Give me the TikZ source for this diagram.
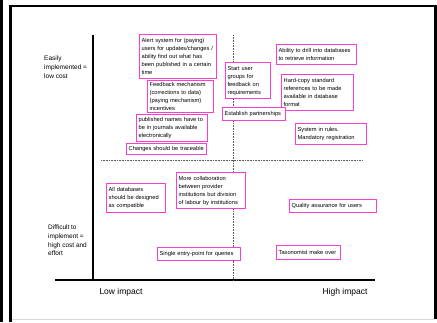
\documentclass[tikz,border=0pt]{standalone}
\usepackage{fontspec}
\setmainfont{Liberation Sans}
\usepackage{xcolor}
\definecolor{boxpink}{RGB}{250,62,205}
\definecolor{gridgray}{RGB}{90,90,90}

\begin{document}
\begin{tikzpicture}[x=1pt,y=-1pt,
    idea/.style={draw=boxpink, line width=1.3pt, fill=white, align=left,
      anchor=north west, inner sep=2pt, font=\fontsize{5.7}{8}\selectfont},
    side/.style={anchor=north west, align=left, inner sep=0pt,
      font=\fontsize{6.5}{8.6}\selectfont},
    impact/.style={inner sep=0pt, font=\fontsize{8.5}{10}\selectfont},
    quarter/.style={gridgray, line width=0.9pt, dash pattern=on 1pt off 0.6pt}]
      \useasboundingbox (0,0) rectangle (437,322);
      % frame
      \fill (0,0) rectangle (3,322);
      \draw[line width=2.6pt] (10.5,322) -- (10.5,6) -- (435.7,6) -- (435.7,318.5);
      \draw[black!15, line width=1pt] (12,319.5) -- (434.5,319.5);
      % axes
      \coordinate (ytop) at (93,35);
      \coordinate (origin) at (93,280);
      \coordinate (xleft) at (55,280);
      \coordinate (xright) at (375,280);
      \draw[line width=1.1pt] (ytop) -- (origin);
      \draw[line width=1.1pt] (xleft) -- (xright);
      \coordinate (vtop) at (233,35);
      \coordinate (vbot) at (233,280);
      \coordinate (hleft) at (101,160);
      \coordinate (hright) at (362,160);
      \draw[quarter] (vtop) -- (vbot);
      \draw[quarter] (hleft) -- (hright);
      % axis labels
      \node[side] (easy) at (44,56) {Easily\\implemented =\\low cost};
      \node[side] (hard) at (48,225) {Difficult to\\implement =\\high cost and\\effort};
      \node[impact] (low) at (121,292) {Low impact};
      \node[impact] (high) at (345,292) {High impact};
      % ideas
      \node[idea, text width=73, minimum height=44] (alert) at (139,34)
        {Alert system for (paying)\\users for updates/changes /\\ability find out what has\\been published in a certain\\time};
      \node[idea, text width=62, minimum height=32] (feedback) at (147,80)
        {Feedback mechanism\\(corrections to data)\\(paying mechanism)\\incentives};
      \node[idea, text width=67, minimum height=27] (journals) at (136,114)
        {published names have to\\be in journals available\\electronically};
      \node[idea, text width=76, minimum height=11] (trace) at (126,143)
        {Changes should be traceable};
      \node[idea, text width=76, minimum height=20] (drill) at (276,44)
        {Ability to drill into databases\\to retrieve information};
      \node[idea, text width=41, minimum height=36] (groups) at (225,62)
        {Start user\\groups for\\feedback on\\requirements};
      \node[idea, text width=68, minimum height=36] (hardcopy) at (281,74)
        {Hard-copy standard\\references to be made\\available in database\\format};
      \node[idea, text width=59, minimum height=13] (partner) at (222,107)
        {Establish partnerships};
      \node[idea, text width=67, minimum height=21] (rules) at (295,123)
        {System in rules.\\Mandatory registration};
      \node[idea, text width=55, minimum height=29] (compat) at (106,183)
        {All databases\\should be designed\\as compatible};
      \node[idea, text width=65, minimum height=36] (collab) at (176,172)
        {More collaboration\\between provider\\institutions but division\\of labour by institutions};
      \node[idea, text width=83, minimum height=13] (quality) at (289,199)
        {Quality assurance for users};
      \node[idea, text width=79, minimum height=13] (entry) at (157,247)
        {Single entry-point for queries};
      \node[idea, text width=60, minimum height=14] (taxon) at (276,245)
        {Taxonomist make over};
\end{tikzpicture}
\end{document}
